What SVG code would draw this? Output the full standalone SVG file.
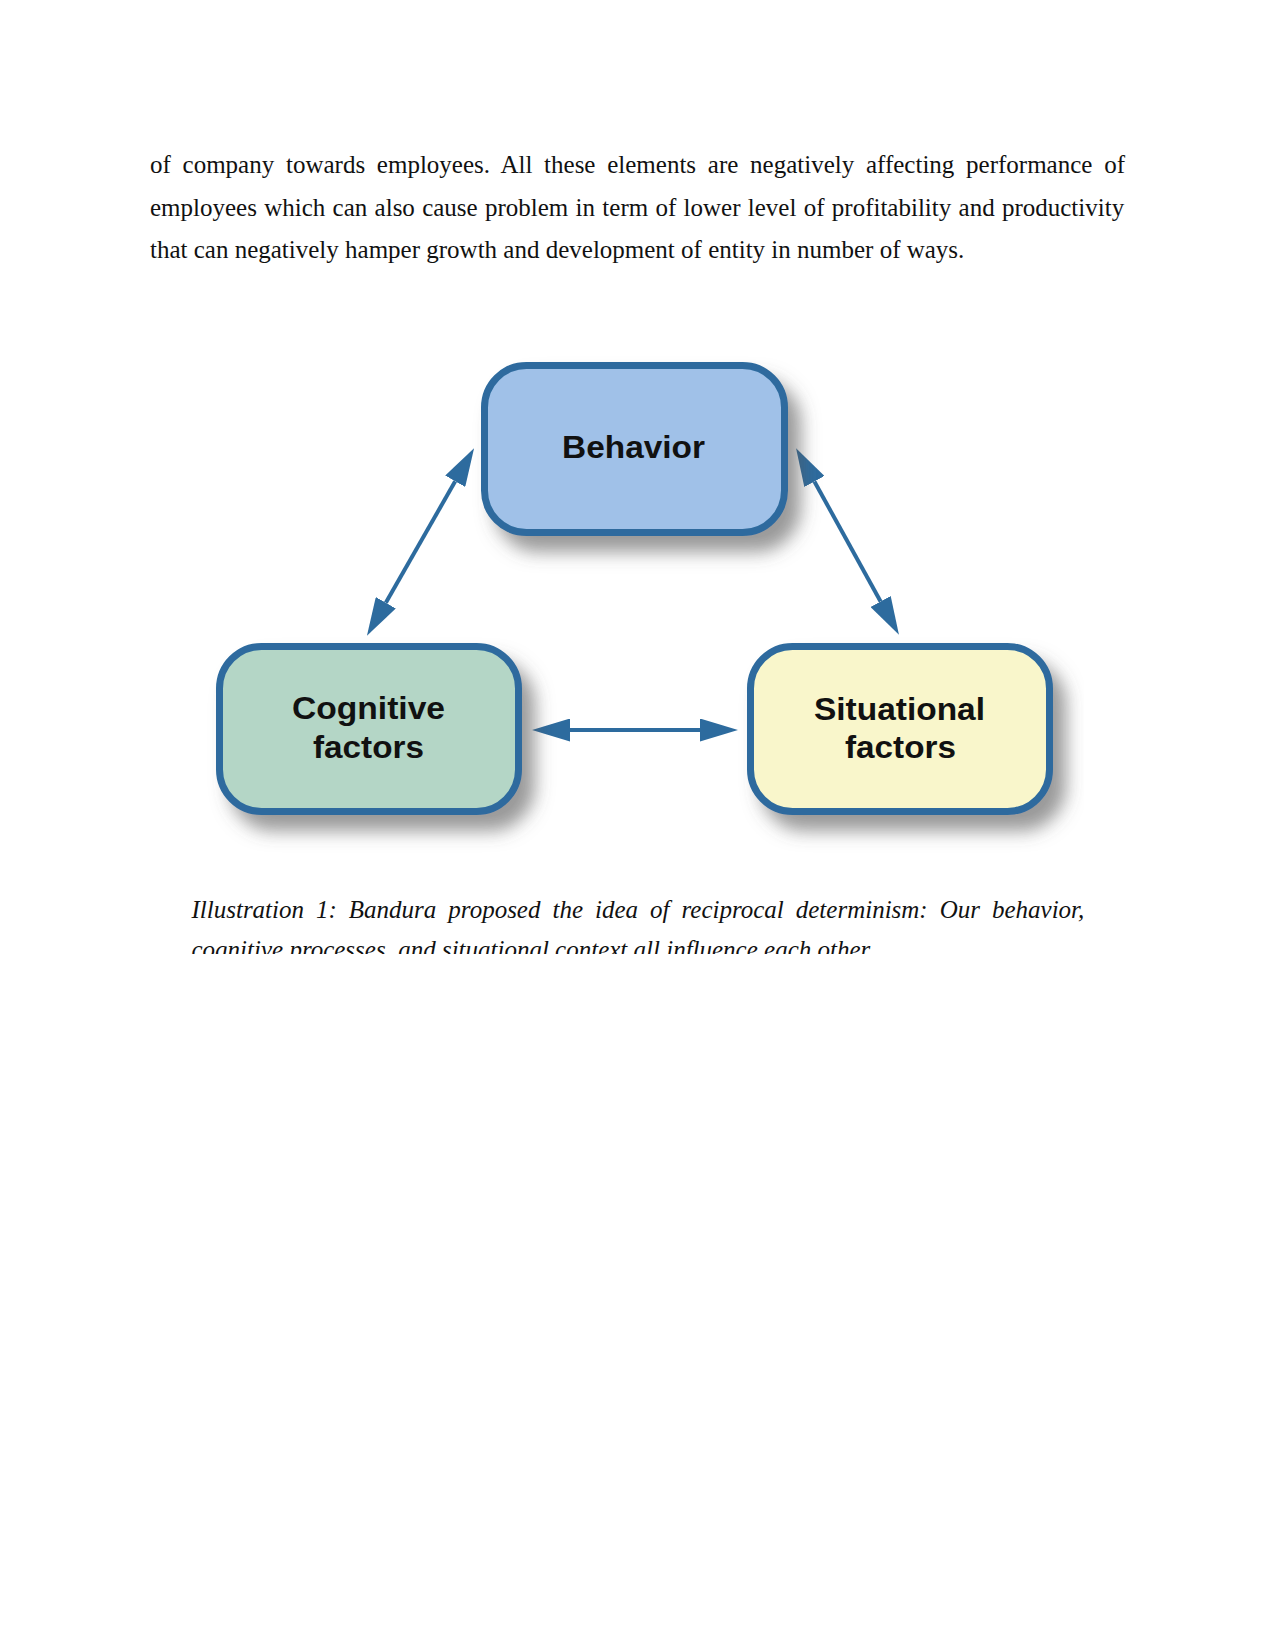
<svg xmlns="http://www.w3.org/2000/svg" width="1275" height="1650" viewBox="0 0 1275 1650">
<style>
.para{font-family:"Liberation Serif","Times New Roman",serif;font-size:25px;fill:#111;}
.cap{font-family:"Liberation Serif","Times New Roman",serif;font-size:25px;font-style:italic;fill:#111;}
.box{stroke:#2d6b9e;stroke-width:7;}
.lbl{font-family:"Liberation Sans",Arial,sans-serif;font-size:32px;font-weight:bold;fill:#111;text-anchor:middle;}
.conn{stroke:#2d6b9e;stroke-width:4;fill:none;marker-start:url(#ah);marker-end:url(#ah);}
</style>
<defs>
<marker id="ah" viewBox="0 0 38 23" refX="0" refY="11.5" markerWidth="38" markerHeight="23" markerUnits="userSpaceOnUse" orient="auto-start-reverse">
<path d="M0,0 L38,11.5 L0,23 z" fill="#2d6b9e"/>
</marker>
<filter id="sh" x="-20%" y="-20%" width="150%" height="170%">
<feDropShadow dx="13" dy="16" stdDeviation="9" flood-color="#555" flood-opacity="0.6"/>
</filter>
<clipPath id="imgclip"><rect x="200" y="340" width="884" height="515"/></clipPath>
<clipPath id="capclip"><rect x="0" y="880" width="1275" height="74"/></clipPath>
</defs>
<rect width="1275" height="1650" fill="#fff"/>
<g id="paragraph">
<text class="para" x="150" y="173" word-spacing="5.5">of company towards employees. All these elements are negatively affecting performance of</text>
<text class="para" x="150" y="215.5" word-spacing="1.05">employees which can also cause problem in term of lower level of profitability and productivity</text>
<text class="para" x="150" y="258">that can negatively hamper growth and development of entity in number of ways.</text>
</g>
<g clip-path="url(#imgclip)">
<g id="connectors">
<line class="conn" x1="385.8" y1="602.7" x2="455.2" y2="481.3"/>
<line class="conn" x1="814.4" y1="481.5" x2="880.6" y2="601.5"/>
<line class="conn" x1="570" y1="730" x2="700" y2="730"/>
</g>
<g id="behavior">
<rect class="box" x="484.5" y="365.5" width="300" height="167" rx="42" fill="#a0c1e8" filter="url(#sh)"/>
<text class="lbl" x="633.5" y="458" textLength="143" lengthAdjust="spacingAndGlyphs">Behavior</text>
</g>
<g id="cognitive">
<rect class="box" x="219.5" y="646.5" width="299" height="165" rx="42" fill="#b4d6c6" filter="url(#sh)"/>
<text class="lbl" x="368.5" y="719" textLength="153" lengthAdjust="spacingAndGlyphs">Cognitive</text>
<text class="lbl" x="368.5" y="758" textLength="111" lengthAdjust="spacingAndGlyphs">factors</text>
</g>
<g id="situational">
<rect class="box" x="750.5" y="646.5" width="299" height="165" rx="42" fill="#f9f6cb" filter="url(#sh)"/>
<text class="lbl" x="899.5" y="720" textLength="171" lengthAdjust="spacingAndGlyphs">Situational</text>
<text class="lbl" x="900.5" y="758" textLength="111" lengthAdjust="spacingAndGlyphs">factors</text>
</g>
</g>
<g id="caption" clip-path="url(#capclip)">
<text class="cap" x="191.5" y="918" word-spacing="5.75">Illustration 1: Bandura proposed the idea of reciprocal determinism: Our behavior,</text>
<text class="cap" x="191.5" y="958">cognitive processes, and situational context all influence each other.</text>
</g>
</svg>
